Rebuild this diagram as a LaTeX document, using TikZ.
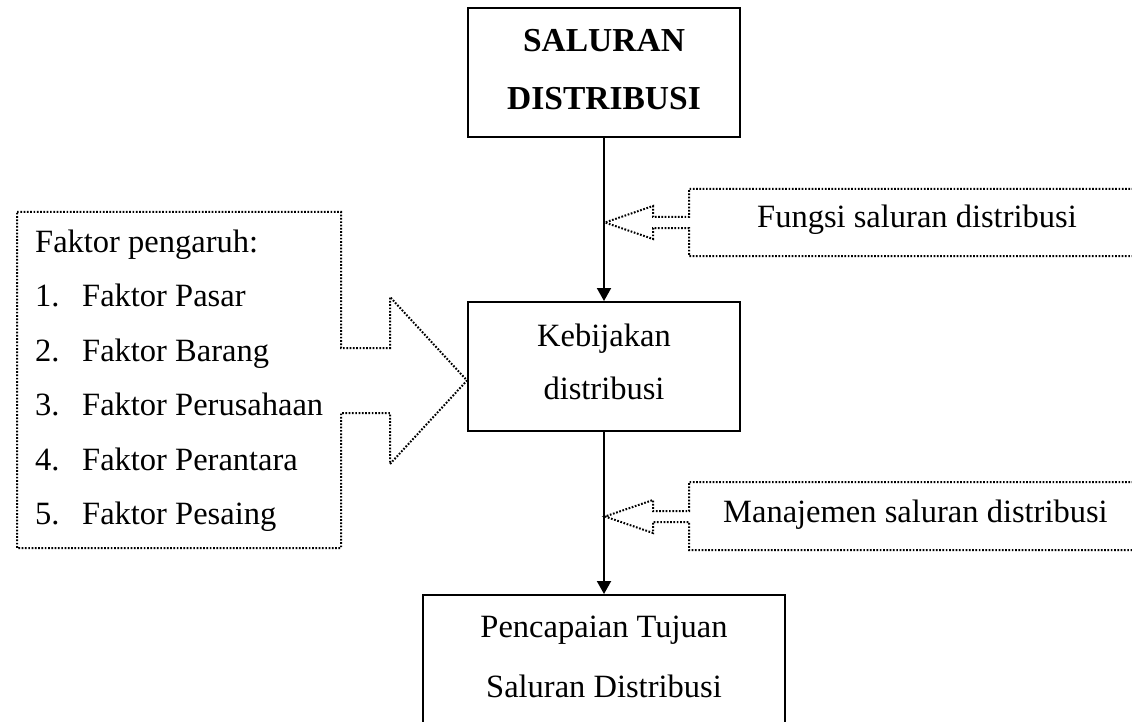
\documentclass[tikz,border=0pt]{standalone}
\usepackage{fontspec}
\setmainfont{Liberation Serif}
\usetikzlibrary{arrows.meta}
\begin{document}
\begin{tikzpicture}[x=1pt,y=-1pt,
  box/.style={draw, line width=2pt, inner sep=0pt, align=center, font=\fontsize{32.5}{53}\selectfont},
  dotline/.style={line width=2pt, dash pattern=on 1.7pt off 1.6pt},
  txt/.style={inner sep=0pt, anchor=base west, font=\fontsize{32.5}{39}\selectfont},
  conn/.style={line width=2pt, -{Triangle[width=14pt,length=13pt]}}]
\useasboundingbox (0,0) rectangle (1132,722);
\clip (0,0) rectangle (1132,722);

% main boxes
\node[box, font=\bfseries\fontsize{33.5}{58}\selectfont, minimum width=272pt, minimum height=129pt,
      text height=80pt, text depth=5pt] (top) at (604,72.5) {SALURAN\\DISTRIBUSI};
\node[box, minimum width=272pt, minimum height=129pt,
      text height=70pt, text depth=5pt] (mid) at (604,366.5) {Kebijakan\\distribusi};
\node[box, font=\fontsize{32.5}{60}\selectfont, minimum width=362pt, minimum height=129pt,
      text height=80pt, text depth=5pt] (goal) at (604,659.5) {Pencapaian Tujuan\\Saluran Distribusi};

% connectors
\draw[conn] (top) -- (mid);
\draw[conn] (mid) -- (goal);

% right dotted block arrows
\draw[dotline] (1140,189) -- (689,189) -- (689,217) -- (653,217) -- (653,206) -- (605,222.5)
   -- (653,239) -- (653,228) -- (689,228) -- (689,256) -- (1140,256);
\node[txt] (fungsi) at (757,228) {Fungsi saluran distribusi};

\draw[dotline] (1140,482) -- (689,482) -- (689,511) -- (653,511) -- (653,500) -- (605,516.5)
   -- (653,533) -- (653,522) -- (689,522) -- (689,550) -- (1140,550);
\node[txt] (manaj) at (723,522) {Manajemen saluran distribusi};

% left dotted box with block arrow
\draw[dotline] (17,212) -- (341,212) -- (341,348) -- (390,348) -- (390,297) -- (467,380.5)
   -- (390,464) -- (390,413) -- (341,413) -- (341,548) -- (17,548) -- cycle;
\node[txt] (head) at (35,252) {Faktor pengaruh:};
\foreach \k/\t [count=\c] in {1/Faktor Pasar,2/Faktor Barang,3/Faktor Perusahaan,4/Faktor Perantara,5/Faktor Pesaing}{
  \node[txt] (num\c) at (35,252+54.5*\c) {\k.};
  \node[txt] (item\c) at (82,252+54.5*\c) {\t};
}
\end{tikzpicture}
\end{document}
